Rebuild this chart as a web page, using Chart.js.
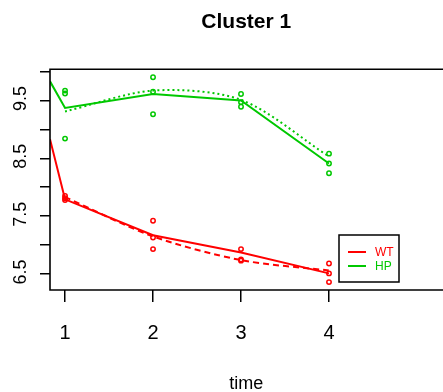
<!DOCTYPE html>
<html>
<head>
<meta charset="utf-8">
<script src="https://cdn.jsdelivr.net/npm/chart.js@4"></script>
<style>
  html, body { margin: 0; padding: 0; background: #fff; overflow: hidden; }
  #wrap { width: 448px; height: 392px; }
</style>
</head>
<body>
<div id="wrap"><canvas id="chart"></canvas></div>
<script>
const RED = "#ff0000";
const GREEN = "#00c800";

const times = [1, 2, 3, 4];
const xTicks = [1, 2, 3, 4];
const yTicks = [6.5, 7, 7.5, 8, 8.5, 9, 9.5, 10];
const yLabels = [6.5, 7.5, 8.5, 9.5];

// observed values, three per time point
const wtObs = [
  [7.85, 7.81, 7.78],
  [7.42, 7.13, 6.93],
  [6.93, 6.75, 6.73],
  [6.68, 6.51, 6.36],
];
const hpObs = [
  [9.67, 9.62, 8.84],
  [9.90, 9.65, 9.26],
  [9.61, 9.47, 9.39],
  [8.58, 8.41, 8.24],
];

// fitted lines (start at left edge of plot)
const fitX = [0.829, 1, 2, 3, 4];
const wtFit = [8.83, 7.79, 7.17, 6.87, 6.51];
const hpFit = [9.83, 9.37, 9.61, 9.50, 8.41];

// smoothed mean curves
const wtSmooth = [7.83, 7.15, 6.74, 6.56];
const hpSmooth = [9.31, 9.67, 9.51, 8.53];

const legendItems = [
  { label: "WT", color: RED },
  { label: "HP", color: GREEN },
];

function toPoints(xs, ys) {
  return xs.map((x, i) => ({ x: x, y: ys[i] }));
}

function obsPoints(obs) {
  const pts = [];
  obs.forEach((vals, i) => {
    vals.forEach((v) => pts.push({ x: times[i], y: v }));
  });
  return pts;
}

function pointSet(data, color) {
  return {
    data: data,
    showLine: false,
    pointStyle: "circle",
    pointRadius: 2.2,
    pointBorderWidth: 1.5,
    borderColor: color,
    backgroundColor: "rgba(0,0,0,0)",
  };
}

function lineSet(data, color, dash, tension) {
  return {
    data: data,
    showLine: true,
    borderColor: color,
    borderWidth: 2,
    borderDash: dash,
    tension: tension,
    pointRadius: 0,
    fill: false,
  };
}

// box round plot region, open on the right like the original
const framePlugin = {
  id: "frame",
  afterDraw(chart) {
    const { ctx, chartArea, width } = chart;
    ctx.save();
    ctx.strokeStyle = "#000";
    ctx.lineWidth = 1.6;
    ctx.beginPath();
    ctx.moveTo(width, chartArea.top);
    ctx.lineTo(chartArea.left, chartArea.top);
    ctx.lineTo(chartArea.left, chartArea.bottom);
    ctx.lineTo(width, chartArea.bottom);
    ctx.stroke();
    ctx.restore();
  },
};

// rotated y labels, R style
const yLabelPlugin = {
  id: "yLabels",
  afterDraw(chart) {
    const { ctx } = chart;
    const y = chart.scales.y;
    ctx.save();
    ctx.fillStyle = "#000";
    ctx.font = "18px 'Liberation Sans', Arial, sans-serif";
    ctx.textAlign = "center";
    ctx.textBaseline = "middle";
    yLabels.forEach((v) => {
      ctx.save();
      ctx.translate(21, y.getPixelForValue(v) - 2);
      ctx.rotate(-Math.PI / 2);
      ctx.fillText(v.toFixed(1), 0, 0);
      ctx.restore();
    });
    ctx.restore();
  },
};

const legendPlugin = {
  id: "boxLegend",
  afterDraw(chart) {
    const { ctx } = chart;
    ctx.save();
    ctx.fillStyle = "#fff";
    ctx.fillRect(339, 235, 60, 47);
    ctx.strokeStyle = "#000";
    ctx.lineWidth = 1.5;
    ctx.strokeRect(339, 235, 60, 47);
    ctx.font = "12px 'Liberation Sans', Arial, sans-serif";
    ctx.textBaseline = "middle";
    ctx.textAlign = "left";
    legendItems.forEach((item, i) => {
      const yy = 252 + i * 14;
      ctx.strokeStyle = item.color;
      ctx.lineWidth = 2;
      ctx.beginPath();
      ctx.moveTo(348, yy);
      ctx.lineTo(366, yy);
      ctx.stroke();
      ctx.fillStyle = item.color;
      ctx.fillText(item.label, 375, yy + 1);
    });
    ctx.restore();
  },
};

new Chart(document.getElementById("chart"), {
  type: "scatter",
  data: {
    datasets: [
      pointSet(obsPoints(wtObs), RED),
      pointSet(obsPoints(hpObs), GREEN),
      lineSet(toPoints(fitX, wtFit), RED, [], 0),
      lineSet(toPoints(fitX, hpFit), GREEN, [], 0),
      lineSet(toPoints(times, wtSmooth), RED, [6, 4], 0.3),
      lineSet(toPoints(times, hpSmooth), GREEN, [2, 3], 0.3),
    ],
  },
  options: {
    responsive: true,
    maintainAspectRatio: false,
    animation: false,
    devicePixelRatio: 1,
    layout: { padding: 0 },
    plugins: {
      legend: { display: false },
      tooltip: { enabled: false },
      title: {
        display: true,
        text: "Cluster 1",
        fullSize: false,
        color: "#000",
        font: { family: "'Liberation Sans', Arial, sans-serif", size: 21, weight: "bold", lineHeight: 1.2 },
        padding: { top: 10, bottom: 34 },
      },
    },
    scales: {
      x: {
        type: "linear",
        min: 0.829,
        max: 5.29,
        afterBuildTicks(scale) {
          scale.ticks = xTicks.map((v) => ({ value: v }));
        },
        afterFit(scale) {
          scale.height = 102;
        },
        border: { display: false },
        grid: { drawOnChartArea: false, drawTicks: true, tickLength: 12, color: "#000", lineWidth: 1.5 },
        ticks: {
          color: "#000",
          padding: 19,
          maxRotation: 0,
          font: { family: "'Liberation Sans', Arial, sans-serif", size: 20 },
        },
        title: {
          display: true,
          text: "time",
          color: "#000",
          padding: 0,
          font: { family: "'Liberation Sans', Arial, sans-serif", size: 18, lineHeight: 0.9 },
        },
      },
      y: {
        type: "linear",
        min: 6.223,
        max: 10.04,
        afterBuildTicks(scale) {
          scale.ticks = yTicks.map((v) => ({ value: v }));
        },
        afterFit(scale) {
          scale.width = 50;
        },
        border: { display: false },
        grid: { drawOnChartArea: false, drawTicks: true, tickLength: 10, color: "#000", lineWidth: 1.5 },
        ticks: { callback: () => "", padding: 0 },
      },
    },
  },
  plugins: [framePlugin, yLabelPlugin, legendPlugin],
});
</script>
</body>
</html>
